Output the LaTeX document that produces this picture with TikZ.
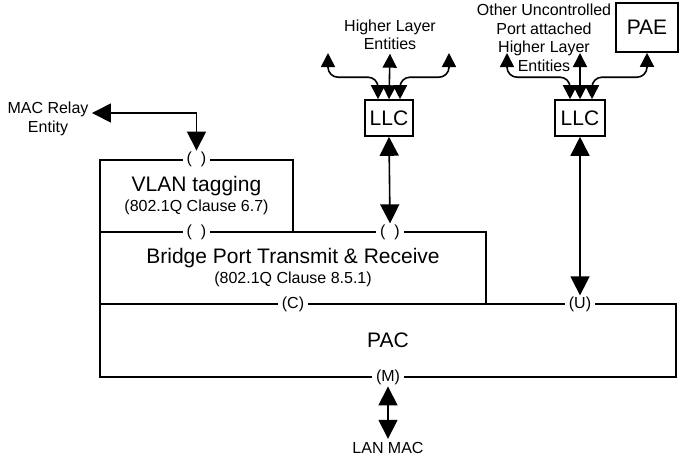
\documentclass[tikz,border=0pt]{standalone}
\usepackage{fontspec}
\setmainfont{Liberation Sans}
\usetikzlibrary{positioning, arrows.meta}

\begin{document}
\begin{tikzpicture}[
		x=1pt, y=-1pt,
		lbl/.style={font=\fontsize{16}{18.5}\selectfont, align=center},
		big/.style={font=\fontsize{21}{24}\selectfont},
		blk/.style={draw, rectangle, line width=1.6pt, inner sep=0pt, align=center, big},
		port/.style={fill=white, inner xsep=4pt, inner ysep=1pt, font=\fontsize{16}{18.5}\selectfont},
		link/.style={line width=1.6pt, >={Triangle[width=19pt,length=19pt]}},
		sm/.style={line width=1.6pt, >={Triangle[width=14pt,length=14pt]}, rounded corners=10pt}
		]
		\useasboundingbox (0,0) rectangle (680,456);

		% stack of boxes
		\node[blk, minimum width=193pt, minimum height=72pt] (vlan) at (196.5,196) {VLAN tagging\\[-4pt]{\fontsize{16}{18.5}\selectfont (802.1Q Clause 6.7)}};
		\node[blk, minimum width=386pt, minimum height=72pt] (bridge) at (293,268) {Bridge Port Transmit \& Receive\\[-4pt]{\fontsize{16}{18.5}\selectfont (802.1Q Clause 8.5.1)}};
		\node[blk, minimum width=576pt, minimum height=73pt] (pac) at (388,340.5) {PAC};

		% ports
		\node[port] (pv) at (vlan.north) {(~~)};
		\node[port] (pb1) at (vlan.south) {(~~)};
		\node[port] (pb2) at (390,232) {(~~)};
		\node[port] (pc) at (bridge.south) {(C)};
		\node[port] (pu) at (580,304) {(U)};
		\node[port] (pm) at (pac.south) {(M)};

		% LLCs and PAE
		\node[blk, minimum width=48pt, minimum height=36pt] (llc1) at (389,118) {LLC};
		\node[blk, minimum width=50pt, minimum height=36pt] (llc2) at (580,118) {LLC};
		\node[blk, minimum width=62pt, minimum height=49pt] (pae) at (647,27.5) {PAE};

		% labels
		\node[lbl] (mac) at (48,119) {MAC Relay\\Entity};
		\node[lbl] (lan) at (388,448) {LAN MAC};
		\node[lbl] (hle) at (390,35) {Higher Layer\\Entities};
		\node[lbl] (ohle) at (544,38) {Other Uncontrolled\\Port attached\\Higher Layer\\Entities};

		\coordinate (h1l) at (328,53);
		\coordinate (h1r) at (449,53);
		\coordinate (h2l) at (507,53);
		\coordinate (h2c) at (580,53);

		% connectors
		\draw[link, <->] (pv.north) |- ([yshift=6pt]mac.east);
		\draw[link, <->] (llc1.south) to (pb2.north);
		\draw[link, <->] (llc2.south) to (pu.north);
		\draw[link, <->] (pm.south) to (lan.north);

		\draw[sm, <->] ([xshift=-11pt]llc1.north) |- ++(-25,-22) -| (h1l);
		\draw[sm, <->] (llc1.north) to (hle.south);
		\draw[sm, <->] ([xshift=11pt]llc1.north) |- ++(25,-22) -| (h1r);

		\draw[sm, <->] ([xshift=-10pt]llc2.north) |- ++(-31,-22) -| (h2l);
		\draw[sm, <->] (llc2.north) to (h2c);
		\draw[sm, <->] ([xshift=12pt]llc2.north) |- ++(30,-22) -| (pae.south);
\end{tikzpicture}
\end{document}
